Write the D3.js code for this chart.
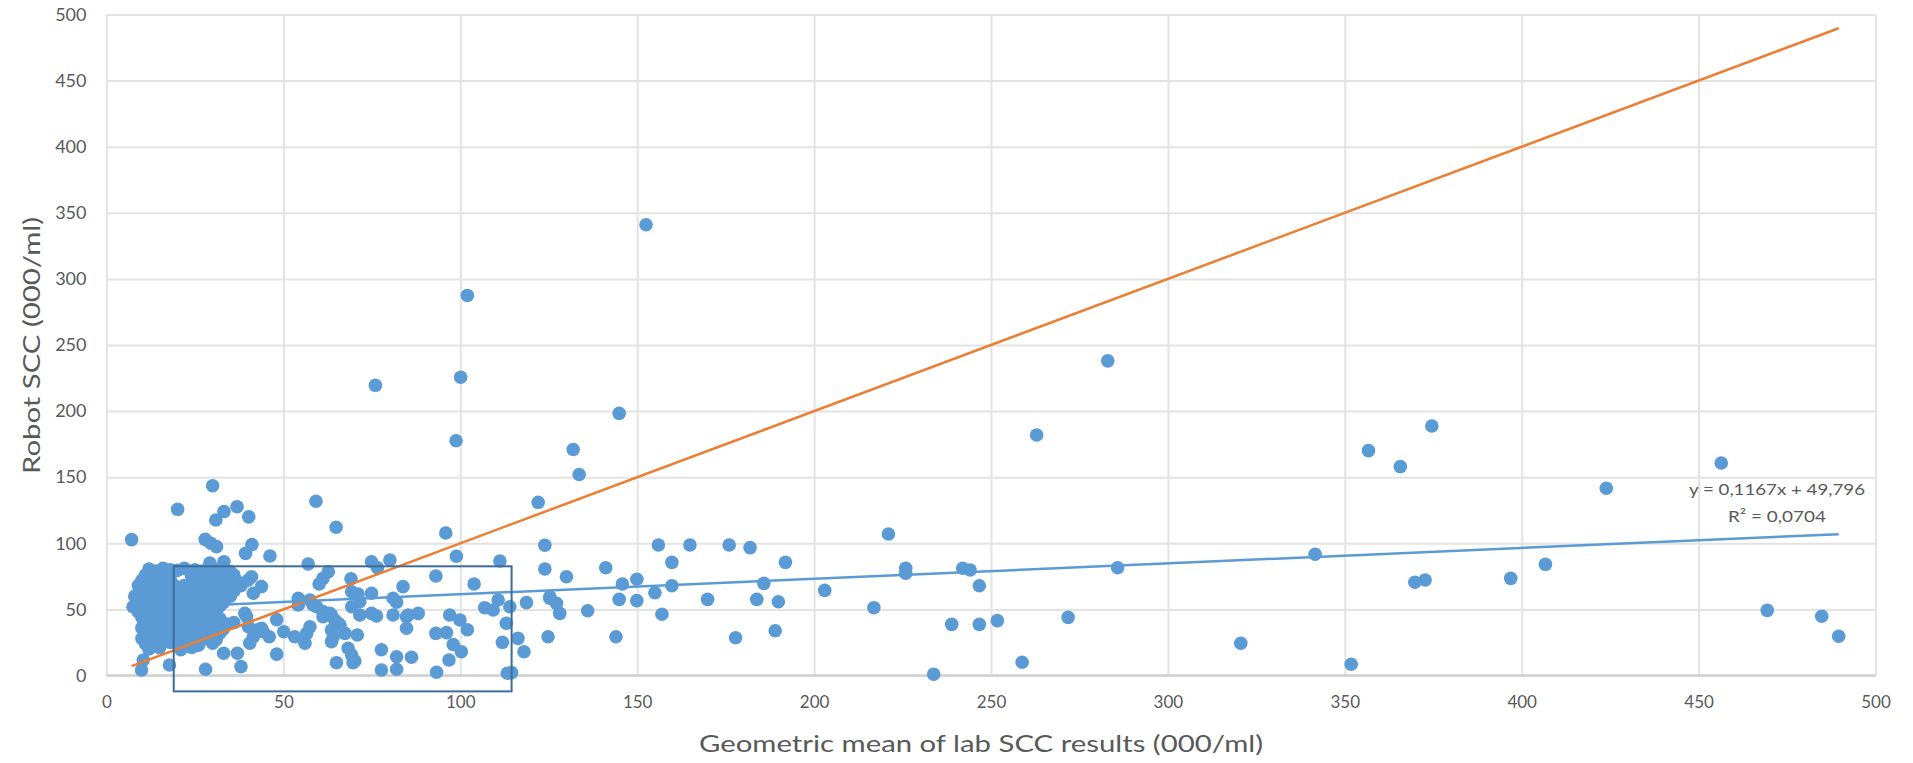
<!DOCTYPE html>
<html>
<head>
<meta charset="utf-8">
<script src="https://cdn.jsdelivr.net/npm/d3@7"></script>
<style>
  html, body { margin: 0; padding: 0; background: #ffffff; }
  svg { display: block; }
  text { font-family: Lato, "Open Sans", "Liberation Sans", sans-serif; }
</style>
</head>
<body>
<svg id="chart" width="1913" height="763"></svg>
<script>
// ---------------- DATA ----------------
const xTicks = [0, 50, 100, 150, 200, 250, 300, 350, 400, 450, 500];
const yTicks = [0, 50, 100, 150, 200, 250, 300, 350, 400, 450, 500];
const xTitle = "Geometric mean of lab SCC results (000/ml)";
const yTitle = "Robot SCC (000/ml)";
const equationLines = ["y = 0,1167x + 49,796", "R\u00B2 = 0,0704"];
const trendSlope = 0.1167;
const trendIntercept = 49.796;
// highlighted region (data units)
const boxX = [19, 114.5];
const boxY = [-12, 82.6];

// Geometric mean of lab SCC (x) for each sample
const labSCC = [
  152.5, 102, 283, 76, 100.1, 98.8, 131.9, 133.6, 144.9, 262.9, 374.6, 356.7, 365.7, 456.4, 423.9,
  59.2, 122, 30, 20.1, 36.9, 33.2, 30.9, 40.2, 64.9, 95.9, 7.1, 27.9, 29.5, 31.1, 41.1, 123.9, 221,
  156, 164.9, 176, 181.9, 39.3, 46.2, 98.9, 341.6, 159.8, 191.9, 111.2, 80.1, 74.9, 29.2, 33.2, 57, 406.7,
  76.6, 123.9, 141.1, 225.9, 225.9, 242, 244.1, 285.8, 62.7, 130, 149.9, 93.1, 61.2, 69.1, 41, 35.4,
  369.8, 372.7, 396.9, 60.1, 103.9, 145.8, 159.8, 185.8, 246.7, 83.8, 43.8, 69.3, 71.1, 74.9, 41.5,
  155, 203, 125.3,
  54.2, 57.5, 59.4, 61.2, 63.1, 64.5, 66, 54.2, 58.4, 81, 82, 71.6, 69.3, 74.9, 76.3, 71.6, 81, 85.3,
  88.1, 84.8, 97, 99.9, 106.9, 109.3, 110.7, 114, 118.7, 125.3, 127.2, 128.1, 136, 144.9, 149.9, 157,
  169.9, 183.8, 189.9, 216.9, 48.1, 39.6, 39.1, 469.4, 484.8, 271.8, 251.8, 61.2, 63.6, 65.5, 113,
  238.9, 246.7, 40.1,
  43.8, 46, 41.5, 40.5, 50.1, 53.2, 56.1, 57.5, 56.6, 63.6, 64.1, 67.4, 63.6, 70.9, 84.8, 93.1, 96.1,
  102, 98, 111.9, 116.3, 124.8, 144, 177.8, 189, 320.6, 489.6, 42.4, 44.3, 24.1,
  100.3, 118, 68.3, 69.3, 65, 69.7, 70.2, 77.7, 77.7, 82, 82, 86.2, 93.3, 96.8, 113.3, 114.5, 48.1,
  33.1, 37, 38, 28, 17.8, 9.9, 10.4, 233.8, 258.8, 351.8,
  // dense cluster (by rows)
  12, 14, 16, 18, 20, 22, 25, 27, 30, 33, 35,
  11, 13, 15, 17, 24, 26, 28, 31, 34, 36,
  10, 12, 14, 16, 18, 25, 27, 29, 32, 37, 40,
  9, 11, 13, 15, 17, 19, 22, 24, 26, 28, 30, 33, 35, 38,
  10, 12, 14, 16, 18, 21, 23, 25, 27, 29, 31, 34, 36,
  8, 11, 13, 15, 17, 19, 20, 22, 24, 26, 28, 30, 32, 35,
  9, 10, 12, 14, 16, 18, 21, 23, 25, 27, 29, 31, 33,
  7.5, 9, 11, 13, 15, 17, 19, 22, 24, 26, 28, 30, 32,
  9, 11, 13, 15, 18, 20, 23, 25, 27, 29, 31,
  10, 12, 14, 16, 19, 21, 24, 26, 28, 30, 32,
  11, 13, 15, 17, 20, 22, 25, 27, 29, 31, 34, 36,
  10, 12, 14, 16, 18, 21, 23, 26, 28, 30, 33,
  11, 13, 15, 17, 20, 22, 24, 27, 29, 32,
  10, 12, 16, 19, 21, 25, 28, 31,
  11, 14, 18, 22, 26, 30,
  12, 15, 21
];

// Robot SCC (y) for each sample, same order
const robotSCC = [
  341, 287.5, 238, 219.5, 225.6, 177.6, 171, 152, 198.3, 181.9, 188.7, 170.1, 158, 160.7, 141.6,
  131.8, 131, 143.5, 125.7, 127.7, 124, 117.6, 120, 112.1, 107.8, 102.8, 103, 100, 97.5, 99, 98.5, 107,
  98.7, 98.7, 98.7, 96.7, 92.4, 90.4, 90.2, 91.7, 85.6, 85.6, 86.6, 87.4, 86, 85, 86.1, 84.3, 84.1,
  81.5, 80.6, 81.5, 81.1, 77.3, 81.1, 79.8, 81.5, 78.5, 74.7, 72.8, 75.3, 73.5, 73.2, 74.7, 76,
  70.5, 72.2, 73.5, 69.2, 69.2, 69.2, 67.9, 69.7, 67.9, 67.2, 67.2, 63.4, 61.6, 62.2, 62.2,
  62.6, 64.4, 59.6,
  58.4, 57.1, 52, 48.3, 47, 42, 38.2, 53.3, 53.3, 58.4, 55.4, 55.8, 52, 47, 45, 45.8, 45.8, 45.8,
  47, 44.5, 45.8, 42, 51.3, 49.5, 57.1, 52, 55.1, 58.4, 54.6, 47, 49, 57.6, 56.6, 46.3,
  57.6, 57.6, 55.8, 51.3, 42.3, 44.5, 47, 49.3, 44.8, 44, 41.5, 44.5, 45.8, 39.5, 39.5,
  38.7, 38.7, 36.9,
  35.7, 29.3, 29.3, 24.4, 33.1, 29.3, 24.4, 36.9, 31.9, 34.4, 29.3, 31.9, 25.6, 30.6, 35.7, 31.9, 32.4,
  34.6, 23.4, 25.1, 28.1, 29.3, 29.3, 28.6, 33.9, 24.4, 29.7, 34.4, 33.1, 21.3,
  18, 18, 20.6, 15.5, 9.7, 9.7, 11, 19.5, 4.2, 14.2, 4.7, 13.8, 2.5, 11.7, 1.7, 2.2, 16.2,
  16.8, 16.8, 6.7, 4.7, 7.9, 4.2, 11.7, 1, 10, 8.5,
  // dense cluster rows
  80.5, 79, 81, 80, 79.5, 81, 80, 79, 81.5, 80, 78.5,
  76, 77, 75.5, 76.5, 76, 75, 76.5, 77, 75.5, 76,
  72, 71, 72.5, 71.5, 73, 72.5, 71.5, 72, 73, 71, 72,
  68, 67.5, 69, 68, 67, 68.5, 68, 67.5, 69, 68, 67, 68.5, 67.5, 68,
  64, 63.5, 65, 64, 63, 64.5, 64, 63.5, 65, 64, 63, 64.5, 64,
  60, 59.5, 61, 60, 59, 60.5, 61, 60, 59.5, 61, 60, 59, 60.5, 60,
  56, 57, 56.5, 55, 56, 57, 55.5, 56, 57, 55, 56.5, 56, 55,
  52, 53, 51.5, 52, 53, 51, 52.5, 52, 51, 53, 52, 51.5, 52.5,
  48, 47.5, 49, 48, 47, 48.5, 48, 47.5, 49, 48, 47,
  44, 43.5, 45, 44, 43, 44.5, 44, 43.5, 45, 44, 43,
  40, 39.5, 41, 40, 39, 40.5, 40, 39.5, 41, 40, 39, 40,
  36, 35.5, 37, 36, 35, 36.5, 36, 35.5, 37, 36, 35,
  32, 31.5, 33, 32, 31, 32.5, 32, 31.5, 33, 32,
  28, 27.5, 29, 28, 27, 28.5, 28, 27,
  24, 23.5, 25, 24, 23, 24.5,
  20, 21, 19.5
];

// ---------------- CHART ----------------
const svg = d3.select("#chart");
const plotL = 106.5, plotR = 1875.5, plotT = 14.5, plotB = 675.5;

const x = d3.scaleLinear().domain([0, 500]).range([plotL, plotR]);
const y = d3.scaleLinear().domain([0, 500]).range([plotB, plotT]);

const gridColor = "#E3E3E3";
const labelColor = "#595959";

const gx = svg.append("g")
  .attr("transform", `translate(0,${plotB})`)
  .call(d3.axisBottom(x).tickValues(xTicks).tickSize(-(plotB - plotT)).tickFormat(""));
gx.select(".domain").remove();
gx.selectAll(".tick line").attr("stroke", gridColor).attr("stroke-width", 2);

const gy = svg.append("g")
  .attr("transform", `translate(${plotL},0)`)
  .call(d3.axisLeft(y).tickValues(yTicks).tickSize(-(plotR - plotL)).tickFormat(""));
gy.select(".domain").remove();
gy.selectAll(".tick line").attr("stroke", gridColor).attr("stroke-width", 2);

svg.append("line")
  .attr("x1", x(0)).attr("x2", x(500))
  .attr("y1", y(0)).attr("y2", y(0))
  .attr("stroke", "#D0D0D0").attr("stroke-width", 2.5);

const xl = svg.append("g")
  .attr("transform", `translate(0,${plotB})`)
  .call(d3.axisBottom(x).tickValues(xTicks).tickSize(0).tickPadding(0));
xl.select(".domain").remove();
xl.selectAll(".tick text")
  .attr("y", 26.5).attr("dy", "0.35em")
  .attr("fill", labelColor)
  .style("font-size", "17px")
  .style("font-family", "Lato, 'Open Sans', sans-serif");

const yl = svg.append("g")
  .attr("transform", `translate(${plotL},0)`)
  .call(d3.axisLeft(y).tickValues(yTicks).tickSize(0).tickPadding(20));
yl.select(".domain").remove();
yl.selectAll(".tick text")
  .attr("fill", labelColor)
  .style("font-size", "18px")
  .style("font-family", "Lato, 'Open Sans', sans-serif");

const data = labSCC.map((v, i) => ({ x: v, y: robotSCC[i] }));
svg.append("g")
  .selectAll("circle")
  .data(data)
  .join("circle")
  .attr("cx", d => x(d.x))
  .attr("cy", d => y(d.y))
  .attr("r", 6.8)
  .attr("fill", "#5B9BD5");

const ext = d3.extent(labSCC);

svg.append("line")
  .attr("x1", x(ext[0])).attr("y1", y(ext[0]))
  .attr("x2", x(ext[1])).attr("y2", y(ext[1]))
  .attr("stroke", "#ED7D31").attr("stroke-width", 2.5);

svg.append("line")
  .attr("x1", x(ext[0])).attr("y1", y(trendSlope * ext[0] + trendIntercept))
  .attr("x2", x(ext[1])).attr("y2", y(trendSlope * ext[1] + trendIntercept))
  .attr("stroke", "#5B9BD5").attr("stroke-width", 2.5);

svg.append("rect")
  .attr("x", x(boxX[0]))
  .attr("y", y(boxY[1]))
  .attr("width", x(boxX[1]) - x(boxX[0]))
  .attr("height", y(boxY[0]) - y(boxY[1]))
  .attr("fill", "none")
  .attr("stroke", "#3E6C99")
  .attr("stroke-width", 2);

svg.append("text")
  .attr("x", 1777).attr("y", 489).attr("dy", "0.35em")
  .attr("text-anchor", "middle")
  .attr("fill", labelColor)
  .style("font-size", "16px")
  .attr("textLength", 176).attr("lengthAdjust", "spacingAndGlyphs")
  .text(equationLines[0]);
svg.append("text")
  .attr("x", 1777).attr("y", 516).attr("dy", "0.35em")
  .attr("text-anchor", "middle")
  .attr("fill", labelColor)
  .style("font-size", "16px")
  .attr("textLength", 98).attr("lengthAdjust", "spacingAndGlyphs")
  .text(equationLines[1]);

svg.append("text")
  .attr("x", 981).attr("y", 744).attr("dy", "0.35em")
  .attr("text-anchor", "middle")
  .attr("fill", labelColor)
  .style("font-size", "23px")
  .attr("textLength", 564).attr("lengthAdjust", "spacingAndGlyphs")
  .text(xTitle);

svg.append("text")
  .attr("transform", "translate(32,345.5) rotate(-90)")
  .attr("dy", "0.35em")
  .attr("text-anchor", "middle")
  .attr("fill", labelColor)
  .style("font-size", "23px")
  .attr("textLength", 257).attr("lengthAdjust", "spacingAndGlyphs")
  .text(yTitle);
</script>
</body>
</html>
